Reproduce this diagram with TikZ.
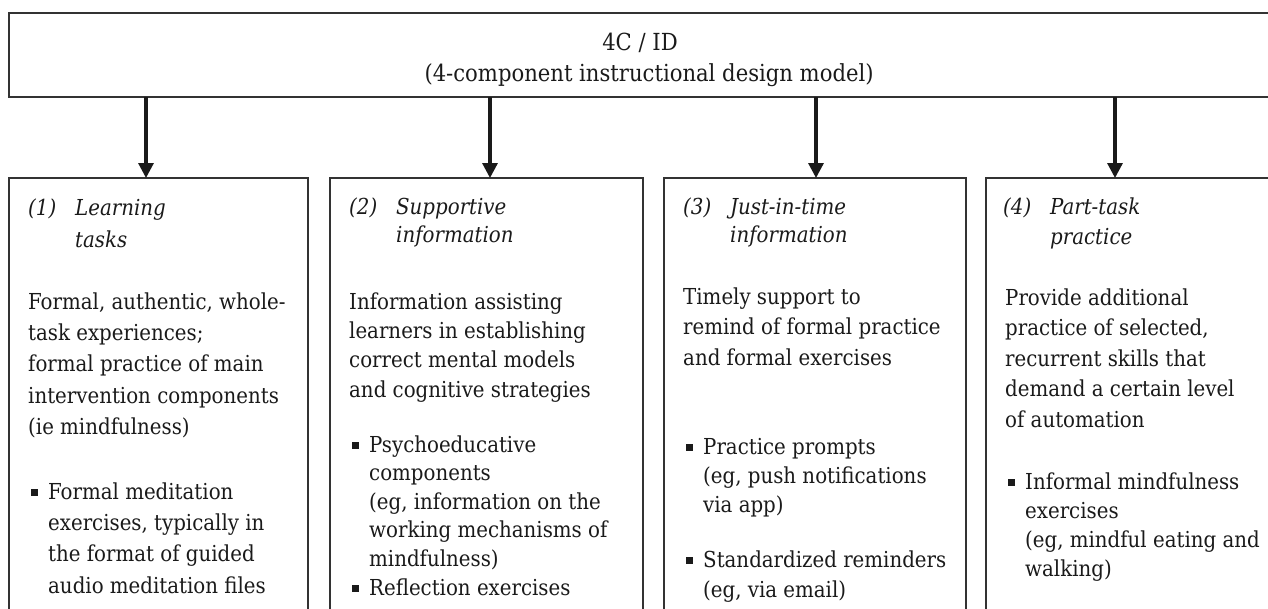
\documentclass[tikz,border=0pt]{standalone}
\usepackage{fontspec}
\setmainfont{DejaVu Serif Condensed}
\usetikzlibrary{arrows.meta}
\definecolor{ink}{HTML}{1A1A1A}
\definecolor{edge}{HTML}{333333}
\newcommand{\fs}{22}
\newcommand{\blk}[3]{\parbox[t]{#1pt}{\raggedright\fontsize{\fs}{#2}\selectfont\lineskiplimit=-100pt #3}}
\newcommand{\headtxt}[4]{\parbox[t]{290pt}{\raggedright\itshape\fontsize{\fs}{#1}\selectfont\lineskiplimit=-100pt \makebox[47pt][l]{#2}#3\\\hspace*{47pt}#4}}
\newcommand{\bsq}{\leavevmode\llap{\rule[3pt]{7pt}{7pt}\hspace{10pt}}}
\begin{document}
\begin{tikzpicture}[x=1pt,y=-1pt,
  box/.style={draw=edge, line width=1.5pt, anchor=north west, inner sep=0pt, outer sep=0pt},
  arr/.style={draw=ink, line width=3.2pt, -{Triangle[length=15pt,width=15pt]}},
  txt/.style={anchor=base west, inner sep=0pt, text=ink},
  ttl/.style={anchor=base, inner sep=0pt, text=ink, font=\fontsize{23.5}{31}\selectfont}]
\useasboundingbox (0,0) rectangle (1268,608);
\clip (0,0) rectangle (1268,608);
% boxes
\node[box, minimum width=1281pt, minimum height=84pt] (top) at (9,13) {};
\node[box, minimum width=299pt, minimum height=452pt] (b1) at (9,178) {};
\node[box, minimum width=313pt, minimum height=452pt] (b2) at (330,178) {};
\node[box, minimum width=302pt, minimum height=452pt] (b3) at (664,178) {};
\node[box, minimum width=320pt, minimum height=452pt] (b4) at (986,178) {};
% title
\node[ttl] (t1) at (640,50) {4C / ID};
\node[ttl] (t2) at (649,81) {(4-component instructional design model)};
% arrows
\coordinate (a1) at (146,0);
\coordinate (a2) at (490,0);
\coordinate (a3) at (816,0);
\coordinate (a4) at (1115,0);
\draw[arr] (top.south -| a1) -- (b1.north -| a1);
\draw[arr] (top.south -| a2) -- (b2.north -| a2);
\draw[arr] (top.south -| a3) -- (b3.north -| a3);
\draw[arr] (top.south -| a4) -- (b4.north -| a4);
% box 1
\node[txt] (h1) at (28,215) {\headtxt{32}{(1)}{Learning}{tasks}};
\node[txt] (p1) at (28,309) {\blk{300}{31.4}{Formal, authentic, whole-\\task experiences;\\formal practice of main\\intervention components\\(ie mindfulness)}};
\node[txt] (l1) at (48,499) {\blk{280}{31.4}{\bsq Formal meditation\\exercises, typically in\\the format of guided\\audio meditation files}};
% box 2
\node[txt] (h2) at (349,214) {\headtxt{28}{(2)}{Supportive}{information}};
\node[txt] (p2) at (349,309) {\blk{300}{29.4}{Information assisting\\learners in establishing\\correct mental models\\and cognitive strategies}};
\node[txt] (l2a) at (369,452) {\blk{280}{28.6}{\bsq Psychoeducative\\components\\(eg, information on the\\working mechanisms of\\mindfulness)}};
\node[txt] (l2b) at (369,595) {\blk{280}{28.6}{\bsq Reflection exercises}};
% box 3
\node[txt] (h3) at (683,214) {\headtxt{28}{(3)}{Just-in-time}{information}};
\node[txt] (p3) at (683,304) {\blk{300}{30.5}{Timely support to\\remind of formal practice\\and formal exercises}};
\node[txt] (l3a) at (703,454) {\blk{280}{29}{\bsq Practice prompts\\(eg, push notifications\\via app)}};
\node[txt] (l3b) at (703,567) {\blk{280}{30}{\bsq Standardized reminders\\(eg, via email)}};
% box 4
\node[txt] (h4) at (1003,214) {\headtxt{30}{(4)}{Part-task}{practice}};
\node[txt] (p4) at (1005,305) {\blk{300}{30.5}{Provide additional\\practice of selected,\\recurrent skills that\\demand a certain level\\of automation}};
\node[txt] (l4) at (1025,489) {\blk{280}{29}{\bsq Informal mindfulness\\exercises\\(eg, mindful eating and\\walking)}};
\end{tikzpicture}
\end{document}
